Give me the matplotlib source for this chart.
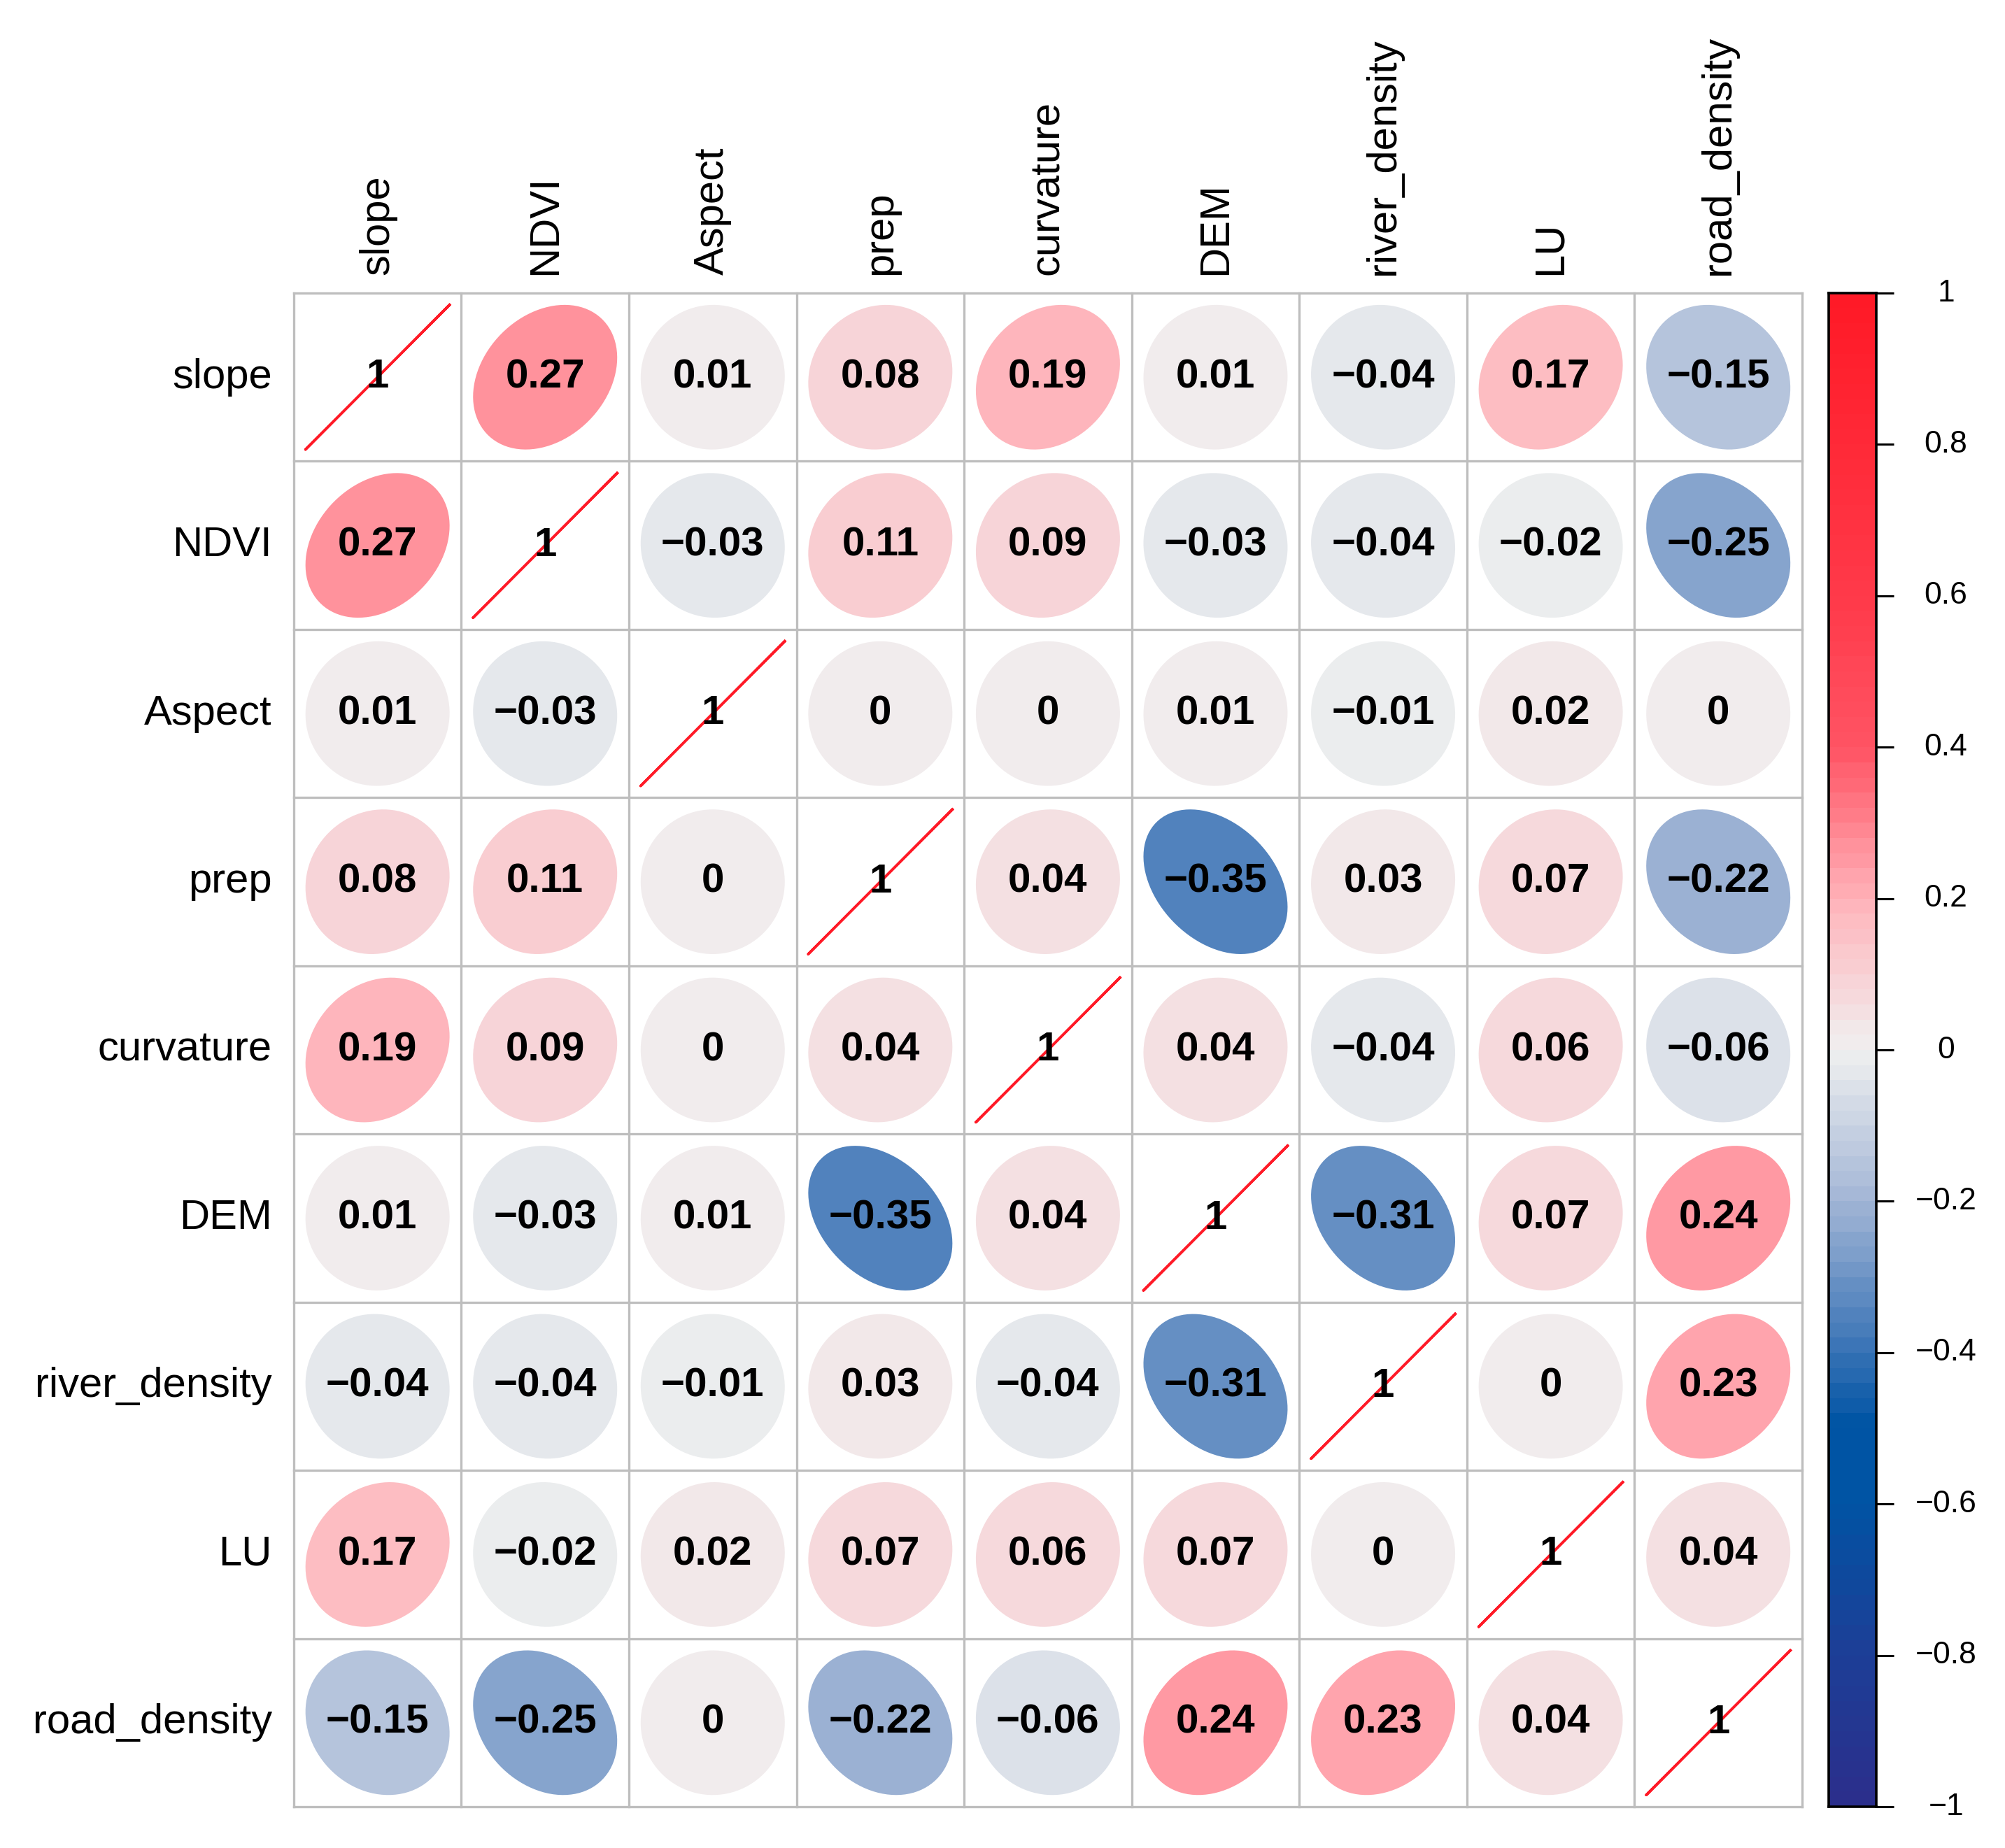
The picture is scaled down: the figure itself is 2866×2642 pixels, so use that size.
import numpy as np
import matplotlib
matplotlib.use("Agg")
import matplotlib.pyplot as plt
from matplotlib.colors import LinearSegmentedColormap, ListedColormap
from matplotlib.patches import Polygon
from matplotlib import font_manager

labels = ["slope", "NDVI", "Aspect", "prep", "curvature", "DEM",
          "river_density", "LU", "road_density"]

corr = np.array([
    [1, 0.27, 0.01, 0.08, 0.19, 0.01, -0.04, 0.17, -0.15],
    [0.27, 1, -0.03, 0.11, 0.09, -0.03, -0.04, -0.02, -0.25],
    [0.01, -0.03, 1, 0, 0, 0.01, -0.01, 0.02, 0],
    [0.08, 0.11, 0, 1, 0.04, -0.35, 0.03, 0.07, -0.22],
    [0.19, 0.09, 0, 0.04, 1, 0.04, -0.04, 0.06, -0.06],
    [0.01, -0.03, 0.01, -0.35, 0.04, 1, -0.31, 0.07, 0.24],
    [-0.04, -0.04, -0.01, 0.03, -0.04, -0.31, 1, 0, 0.23],
    [0.17, -0.02, 0.02, 0.07, 0.06, 0.07, 0, 1, 0.04],
    [-0.15, -0.25, 0, -0.22, -0.06, 0.24, 0.23, 0.04, 1],
])

cbar_ticks = [-1, -0.8, -0.6, -0.4, -0.2, 0, 0.2, 0.4, 0.6, 0.8, 1]

names = {f.name for f in font_manager.fontManager.ttflist}
num_font = "Liberation Sans Narrow" if "Liberation Sans Narrow" in names else "Liberation Sans"
plt.rcParams["font.family"] = ["Liberation Sans", "DejaVu Sans"]

nodes = [(0.0, "#2B2F8C"), (0.1, "#1C3F97"), (0.2, "#0054A4"), (0.25, "#0054A4"),
         (0.3, "#3A74B6"), (0.4, "#A3B6D6"), (0.5, "#F0F0F0"), (0.6, "#FFB3BA"),
         (0.7, "#FF5565"), (0.8, "#FF3A4A"), (1.0, "#FF1A27")]
base = LinearSegmentedColormap.from_list("corr", nodes)
cmap = ListedColormap(base(np.linspace(0, 1, 100)))

def col(v):
    return cmap((v + 1) / 2)

n = len(labels)
fig = plt.figure(figsize=(14.33, 13.21), dpi=200)
ax = fig.add_axes([0.1465, 0.0223, 0.7523, 0.8191])
ax.set_xlim(0, n)
ax.set_ylim(0, n)
ax.axis("off")

k = np.linspace(0, 2 * np.pi, 99)
scale = 0.86
for i in range(n):
    yc = n - i - 0.5
    for j in range(n):
        xc = j + 0.5
        r = corr[i, j]
        a = np.arccos(np.clip(r, -1, 1)) / 2
        ex = np.cos(k + a) / 2 * scale + xc
        ey = np.cos(k - a) / 2 * scale + yc
        if i == j:
            ax.plot(ex, ey, color=col(r), lw=1.3, zorder=2)
        else:
            ax.add_patch(Polygon(np.column_stack([ex, ey]), closed=True,
                                 facecolor=col(r), edgecolor="none", zorder=2))
        txt = "1" if i == j else ("%g" % r).replace("-", "\u2212")
        if txt == "\u22120":
            txt = "0"
        ax.text(xc, yc, txt, ha="center", va="center", fontsize=21,
                fontweight="bold", family=[num_font, "DejaVu Sans"], zorder=3)

for t in range(n + 1):
    ax.plot([t, t], [0, n], color="#BEBEBE", lw=1.2, zorder=1, clip_on=False)
    ax.plot([0, n], [t, t], color="#BEBEBE", lw=1.2, zorder=1, clip_on=False)

for i, lab in enumerate(labels):
    ax.text(-0.13, n - i - 0.5, lab, ha="right", va="center", fontsize=21.5)
    ax.text(i + 0.5, n + 0.11, lab, ha="center", va="bottom", rotation=90,
            fontsize=21.5)

cax = fig.add_axes([0.912, 0.0223, 0.0237, 0.8191])
grad = np.linspace(-1, 1, 101)
cax.pcolormesh([0, 1], grad, ((grad[:-1] + grad[1:]) / 2)[:, None], cmap=cmap,
               vmin=-1, vmax=1, shading="flat")
cax.set_xlim(0, 1)
cax.set_ylim(-1, 1)
cax.set_xticks([])
cax.yaxis.tick_right()
cax.set_yticks(cbar_ticks)
cax.set_yticklabels([])
cax.tick_params(axis="y", length=9, width=1.1, color="black")
for s in cax.spines.values():
    s.set_linewidth(1.3)
    s.set_color("black")
for t in cbar_ticks:
    lab = "%g" % t
    lab = lab.replace("-", "\u2212")
    cax.text(2.47, t, lab, ha="center", va="center", fontsize=16)

fig.savefig("out.png", dpi=200, facecolor="white")
